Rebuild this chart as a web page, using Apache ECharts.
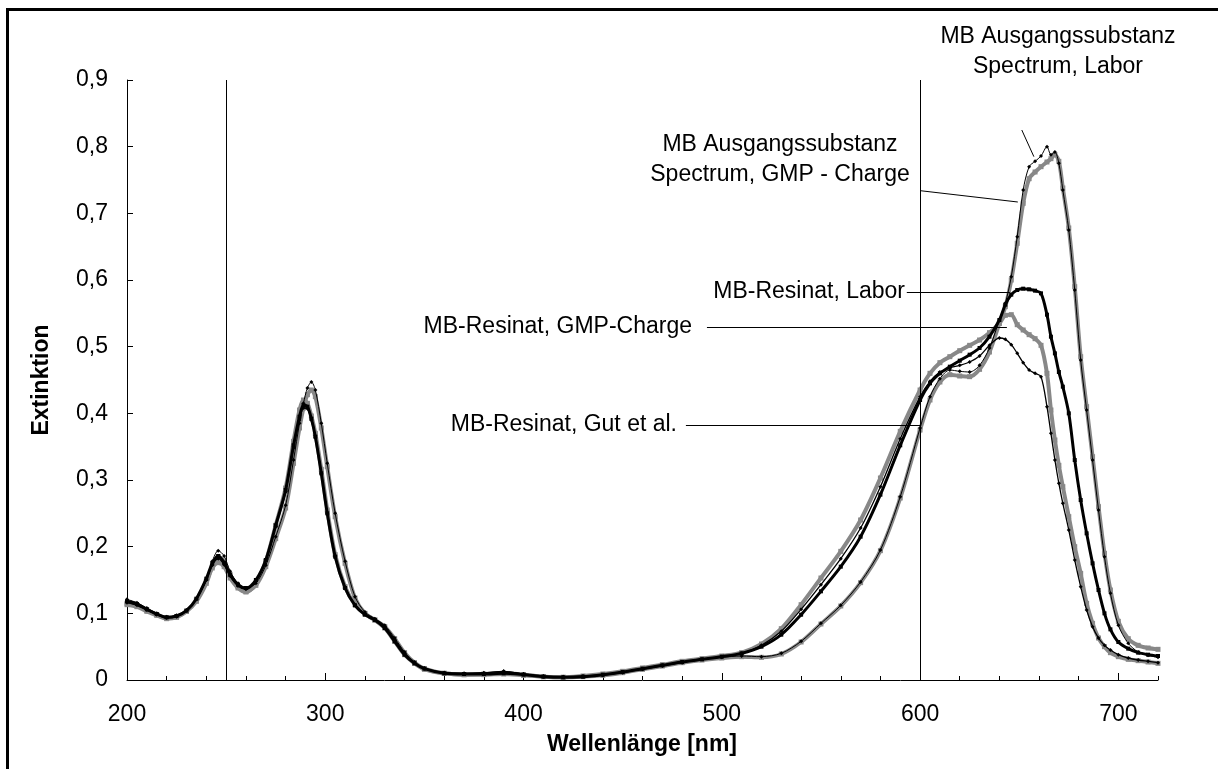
<!DOCTYPE html>
<html>
<head>
<meta charset="utf-8">
<script src="https://cdn.jsdelivr.net/npm/echarts@6/dist/echarts.min.js"></script>
<style>
  html, body { margin: 0; padding: 0; background: #fff; }
  #chart { width: 1218px; height: 769px; }
</style>
</head>
<body>
<div id="chart"></div>
<script>
// Wellenlängen [nm] (gemeinsame Stützstellen aller Spektren)
const wavelengths = [
  200,205,210,215,220,225,230,235,240,
  243,246,249,252,256,260,
  265,270,275,280,
  284,287,289,291,293,295,298,301,
  305,310,315,320,325,330,335,340,345,350,
  360,370,380,390,400,410,420,430,440,450,460,470,480,490,500,510,520,530,540,550,560,570,580,590,600,
  605,610,615,620,625,630,635,640,
  643,646,649,652,655,658,661,664,
  666,668,670,672,
  675,678,681,684,687,690,693,696,
  700,705,710,715,720
];

// MB Ausgangssubstanz Spectrum, Labor
const ausgangLabor = [
  0.121,0.116,0.108,0.100,0.095,0.097,0.105,0.121,0.150,
  0.178,0.194,0.186,0.163,0.145,0.138,
  0.145,0.172,0.215,0.262,
  0.330,0.385,0.415,0.438,0.447,0.435,0.385,0.325,
  0.250,0.178,0.125,0.102,0.092,0.082,0.063,0.042,0.027,0.018,
  0.011,0.009,0.010,0.013,0.009,0.005,0.004,0.005,0.007,0.011,0.016,0.021,0.026,0.031,0.034,0.036,0.035,0.040,0.058,0.085,0.112,0.147,0.195,0.275,0.378,
  0.425,0.452,0.465,0.463,0.462,0.472,0.498,0.540,
  0.565,0.605,0.665,0.735,0.770,0.778,0.786,0.800,
  0.788,0.792,0.775,0.735,
  0.675,0.585,0.480,0.405,0.330,0.255,0.185,0.130,
  0.082,0.055,0.042,0.037,0.034
];

// MB Ausgangssubstanz Spectrum, GMP - Charge
const ausgangGMP = [
  0.115,0.112,0.105,0.098,0.093,0.095,0.103,0.118,0.145,
  0.170,0.185,0.178,0.158,0.140,0.133,
  0.142,0.170,0.212,0.258,
  0.325,0.378,0.408,0.428,0.435,0.425,0.378,0.320,
  0.245,0.175,0.123,0.100,0.090,0.080,0.062,0.041,0.026,0.017,
  0.010,0.008,0.009,0.010,0.008,0.005,0.004,0.005,0.007,0.011,0.016,0.021,0.026,0.030,0.033,0.035,0.034,0.039,0.057,0.084,0.111,0.146,0.194,0.273,0.375,
  0.420,0.447,0.458,0.456,0.455,0.466,0.492,0.535,
  0.560,0.600,0.655,0.715,0.752,0.762,0.770,0.777,
  0.782,0.788,0.778,0.738,
  0.678,0.590,0.485,0.410,0.335,0.260,0.190,0.135,
  0.088,0.062,0.052,0.048,0.046
];

// MB-Resinat, Labor
const resinatLabor = [
  0.118,0.114,0.106,0.099,0.094,0.096,0.104,0.122,0.152,
  0.175,0.186,0.176,0.158,0.143,0.138,
  0.150,0.180,0.232,0.285,
  0.352,0.395,0.412,0.410,0.392,0.365,0.310,0.250,
  0.185,0.138,0.112,0.098,0.090,0.078,0.058,0.038,0.025,0.017,
  0.010,0.009,0.009,0.010,0.008,0.005,0.004,0.005,0.008,0.012,0.017,0.022,0.027,0.031,0.035,0.040,0.050,0.068,0.098,0.133,0.170,0.215,0.278,0.352,0.420,
  0.445,0.460,0.470,0.479,0.488,0.498,0.515,0.540,
  0.563,0.578,0.585,0.587,0.586,0.584,0.580,0.548,
  0.515,0.490,0.462,0.440,
  0.400,0.330,0.270,0.220,0.175,0.135,0.100,0.076,
  0.057,0.047,0.041,0.038,0.036
];

// MB-Resinat, GMP-Charge
const resinatGMP = [
  0.113,0.110,0.103,0.097,0.092,0.094,0.103,0.120,0.148,
  0.168,0.176,0.170,0.153,0.138,0.132,
  0.145,0.178,0.232,0.288,
  0.358,0.405,0.420,0.415,0.396,0.370,0.316,0.255,
  0.188,0.140,0.113,0.099,0.090,0.078,0.058,0.038,0.025,0.016,
  0.010,0.008,0.008,0.009,0.007,0.005,0.004,0.006,0.009,0.013,0.018,0.023,0.028,0.032,0.036,0.041,0.054,0.077,0.113,0.153,0.193,0.240,0.303,0.373,0.435,
  0.460,0.476,0.485,0.494,0.502,0.510,0.521,0.535,
  0.547,0.548,0.533,0.525,0.518,0.512,0.502,0.460,
  0.405,0.360,0.322,0.290,
  0.245,0.200,0.160,0.115,0.085,0.063,0.050,0.041,
  0.035,0.031,0.029,0.027,0.025
];

// MB-Resinat, Gut et al.
const resinatGut = [
  0.116,0.112,0.105,0.098,0.093,0.095,0.104,0.121,0.150,
  0.172,0.182,0.173,0.156,0.141,0.136,
  0.148,0.179,0.230,0.282,
  0.348,0.390,0.408,0.407,0.390,0.364,0.310,0.250,
  0.186,0.139,0.113,0.099,0.091,0.080,0.060,0.040,0.026,0.017,
  0.011,0.010,0.011,0.013,0.009,0.006,0.005,0.006,0.008,0.012,0.017,0.022,0.027,0.031,0.035,0.040,0.052,0.073,0.106,0.143,0.182,0.228,0.290,0.362,0.425,
  0.448,0.462,0.468,0.472,0.477,0.486,0.502,0.513,
  0.511,0.503,0.490,0.476,0.465,0.460,0.455,0.410,
  0.370,0.330,0.295,0.265,
  0.225,0.180,0.140,0.105,0.080,0.063,0.052,0.045,
  0.038,0.033,0.030,0.028,0.026
];

// Achsenbeschriftungen
const xTickLabels = [200, 300, 400, 500, 600, 700];
const referenceLines = [250, 600];

// Beschriftungen mit Hinweislinie: Text, Textposition, Linie [von, bis] in Datenkoordinaten
const annotations = [
  { text: 'MB Ausgangssubstanz\nSpectrum, Labor', x: 1058, y: 52, align: 'center',
    line: [[651.3, 0.825], [657.4, 0.785]] },
  { text: 'MB Ausgangssubstanz\nSpectrum, GMP - Charge', x: 780, y: 160, align: 'center',
    line: [[600, 0.734], [649.3, 0.717]] },
  { text: 'MB-Resinat, Labor', x: 905, y: 292, align: 'right',
    line: [[593.3, 0.582], [645.3, 0.582]] },
  { text: 'MB-Resinat, GMP-Charge', x: 692, y: 327, align: 'right',
    line: [[492.5, 0.5295], [643.8, 0.5295]] },
  { text: 'MB-Resinat, Gut et al.', x: 677, y: 425, align: 'right',
    line: [[481.9, 0.3818], [600, 0.3818]] }
];

const FONT = '"Liberation Sans", Arial, sans-serif';
const pairs = arr => wavelengths.map((w, i) => [w, arr[i]]);

const chart = echarts.init(document.getElementById('chart'), null, { renderer: 'canvas' });

function lineSeries(name, values, color, width, symbol, size, z) {
  return {
    name, type: 'line', data: pairs(values), xAxisIndex: 0, yAxisIndex: 0,
    smooth: 0.3, z,
    symbol, symbolSize: size, showSymbol: true,
    lineStyle: { color, width },
    itemStyle: { color, borderWidth: 0 },
    emphasis: { disabled: true }
  };
}

const series = [
  lineSeries('MB-Resinat, GMP-Charge', resinatGMP, '#888888', 4, 'rect', 5, 2),
  lineSeries('MB Ausgangssubstanz Spectrum, GMP - Charge', ausgangGMP, '#888888', 4, 'rect', 5, 2),
  lineSeries('MB-Resinat, Labor', resinatLabor, '#000', 3, 'rect', 4, 3),
  lineSeries('MB-Resinat, Gut et al.', resinatGut, '#000', 1.3, 'diamond', 4, 4),
  lineSeries('MB Ausgangssubstanz Spectrum, Labor', ausgangLabor, '#000', 1, 'diamond', 4, 4)
];

// Senkrechte Hilfslinien und Hinweislinien
series.push({
  name: 'Hilfslinien', type: 'line', data: [], xAxisIndex: 0, yAxisIndex: 0, z: 5,
  markLine: {
    silent: true, symbol: ['none', 'none'], animation: false,
    label: { show: false },
    lineStyle: { color: '#000', width: 1, type: 'solid' },
    data: referenceLines.map(v => ({ xAxis: v }))
      .concat(annotations.map(a => [{ coord: a.line[0] }, { coord: a.line[1] }]))
  }
});

const option = {
  animation: false,
  backgroundColor: '#fff',
  grid: { left: 127, top: 80, right: 60, bottom: 89, containLabel: false },
  xAxis: [
    {
      type: 'value', min: 200, max: 720, interval: 100, position: 'bottom',
      axisLine: { show: true, onZero: false, lineStyle: { color: '#000', width: 1 } },
      axisTick: { show: true, inside: true, length: 7, lineStyle: { color: '#000' } },
      axisLabel: {
        show: true, margin: 23, color: '#000', fontSize: 23, fontFamily: FONT,
        showMaxLabel: false,
        formatter: v => (xTickLabels.includes(v) ? String(v) : '')
      },
      splitLine: { show: false }
    },
    {
      type: 'value', min: 200, max: 720, interval: 20, position: 'bottom', gridIndex: 0,
      axisLine: { show: false },
      axisTick: { show: true, inside: true, length: 4, lineStyle: { color: '#000' } },
      axisLabel: { show: false },
      splitLine: { show: false }
    }
  ],
  yAxis: {
    type: 'value', min: 0, max: 0.9, interval: 0.1,
    axisLine: { show: true, onZero: false, lineStyle: { color: '#000', width: 1 } },
    axisTick: { show: true, inside: true, length: 6, lineStyle: { color: '#000' } },
    axisLabel: {
      margin: 19, color: '#000', fontSize: 23, fontFamily: FONT,
      formatter: v => (Math.abs(v) < 1e-9 ? '0' : v.toFixed(1).replace('.', ','))
    },
    splitLine: { show: false }
  },
  series,
  graphic: [
    {
      type: 'rect', silent: true, z: 0,
      shape: { x: 7.5, y: 9.5, width: 1400, height: 1000 },
      style: { fill: 'none', stroke: '#000', lineWidth: 3 }
    },
    {
      type: 'text', x: 642, y: 745, silent: true,
      style: { text: 'Wellenlänge [nm]', fill: '#000', font: 'bold 23px ' + FONT,
               align: 'center', verticalAlign: 'middle' }
    },
    {
      type: 'text', x: 42, y: 380, rotation: Math.PI / 2, silent: true,
      style: { text: 'Extinktion', fill: '#000', font: 'bold 23px ' + FONT,
               align: 'center', verticalAlign: 'middle' }
    }
  ].concat(annotations.map(a => ({
    type: 'text', x: a.x, y: a.y, silent: true, z: 10,
    style: { text: a.text, fill: '#000', font: '23px ' + FONT, lineHeight: 30,
             align: a.align, verticalAlign: 'middle' }
  })))
};

chart.setOption(option);
</script>
</body>
</html>
